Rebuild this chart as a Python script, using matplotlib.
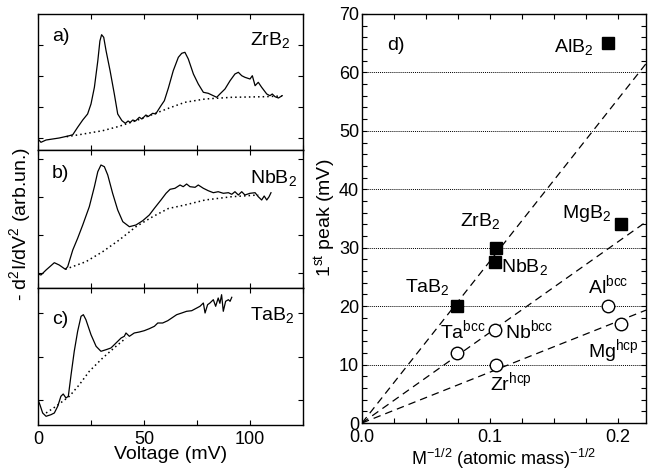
import matplotlib
matplotlib.use("Agg")
import matplotlib.pyplot as plt
from matplotlib.ticker import MultipleLocator

plt.rcParams['font.family'] = ['Liberation Sans', 'DejaVu Sans']
plt.rcParams['mathtext.fontset'] = 'custom'
plt.rcParams['mathtext.rm'] = 'Liberation Sans'
plt.rcParams['mathtext.it'] = 'Liberation Sans'
plt.rcParams['mathtext.default'] = 'regular'

# DATA

# a) ZrB2 spectrum (arb. units)
zr_v = [0, 1.4, 3.8, 6.9, 10, 14.8, 16.4, 18.7, 21.1, 23.4, 25, 26.6, 28.2, 29.2, 30, 31,
        32.1, 34, 36, 37.6, 39.6, 41.2, 42.5, 43.5, 44.7, 46, 47.8, 49, 50.9, 52, 54.1,
        55.5, 56.5, 58, 59.6, 61.5, 63.8, 66.2, 67.8, 69.3, 70.9, 73.3, 75.6, 78, 80.3,
        82.7, 84.3, 85.8, 88.2, 90.6, 92.9, 94.5, 96.1, 97.6, 100, 101.1, 102.4, 103.9,
        105.5, 107.9, 109.4, 110.5, 111.8, 113.4, 115.2]
zr_s = [11, 7.7, 10, 11, 12, 14.3, 15.3, 22.7, 30, 36, 46, 62.7, 89, 109, 115.3, 112.7,
        99.3, 79.3, 56, 36, 29.3, 26.7, 29, 27.5, 30, 29, 32.7, 31, 35, 33.5, 36.7,
        36, 39.3, 44.3, 49.3, 62, 79.3, 92.7, 96.7, 97.7, 91, 76, 66, 57.7, 56.7,
        54.3, 52.7, 56, 61, 69.3, 76, 77.7, 74.3, 72.7, 71, 74.3, 64.3, 67.7,
        62.7, 56, 54.3, 56, 53.3, 52, 54.3]
zr_base_v = [13.5, 20, 30.5, 38, 46.2, 54, 61.9, 69.3, 78.8, 91.4, 107, 115]
zr_base_s = [13.3, 15.5, 19.3, 23.5, 29.3, 35.5, 42, 47.7, 51, 52.7, 53.3, 54]

# b) NbB2 spectrum
nb_v = [0, 1.4, 3.8, 7.7, 10, 12.9, 14, 16.4, 18.7, 21.1, 24.2, 26.6, 28.2, 29.7, 31.3,
        32.9, 35.2, 37.6, 40, 43.1, 46.2, 49.4, 52.5, 54.9, 58, 60.4, 62.3, 64.6, 67,
        68.5, 70.1, 71.7, 74.1, 75.6, 78, 80.3, 82.7, 85, 87.4, 89.8, 91.4, 92.9, 94.5,
        96.1, 97.6, 100, 102.4, 103.9, 105.5, 106.7, 107.9, 109, 109.9]
nb_s = [14, 13, 18, 25.3, 23, 18.7, 21.3, 38, 49.7, 63, 81.3, 101.3, 116.3, 123, 121.3,
        113, 94.7, 78, 66.3, 61.3, 63, 67.3, 73, 79.7, 88, 94.7, 98.7, 99.7, 103,
        101.3, 104, 101.3, 100.7, 103, 99.7, 97.3, 95.3, 96.3, 94.7, 95.3, 93.7, 96.3, 93,
        96.3, 93, 94.7, 95.3, 91.3, 88, 92, 88, 91.3, 95.3]
nb_base_v = [12.9, 22.6, 30.5, 38.3, 46.2, 54.1, 61.5, 69.3, 78.8, 91.4, 103.9]
nb_base_s = [18.7, 26.3, 36.3, 48, 61.3, 71.3, 79.5, 83, 88, 91.3, 93]

# c) TaB2 spectrum
ta_v = [0, 0.9, 2.2, 3.8, 6.1, 7.7, 9.3, 10.8, 11.9, 13.2, 14.3, 15.6, 17.1, 18.7, 20.3,
        21.4, 22.6, 25, 27.4, 29.7, 32.1, 34.4, 36.8, 39.2, 40.7, 41.5, 43.1, 45.4, 47.8,
        50.1, 52.5, 54.9, 56.5, 58.8, 61.2, 63.1, 65.4, 67.8, 70.1, 72.5, 74.9, 76.4, 78,
        78.8, 80, 81.1, 82.7, 83.8, 85, 85.8, 86.6, 87.4, 88.5, 89.8, 90.6, 91.4]
ta_s = [25.3, 20.3, 12, 8.7, 10.3, 12, 18.7, 28.7, 31, 27, 28.7, 50.3, 73.7, 93.7, 108.7,
        110.3, 105.3, 90.3, 78.7, 73.7, 75.3, 77, 82, 87, 88.7, 92, 88.7, 92, 93,
        94.3, 96.3, 98.7, 102, 102, 104.3, 107, 110.3, 112, 113.7, 114.3, 117, 118.7, 122,
        112, 120.3, 122, 125.3, 118.7, 127, 121.7, 130.3, 113.7, 123.7, 125.3, 123.7, 127.7]
ta_base_v = [3.8, 8.5, 14.8, 19.5, 24.2, 30.5, 36.8, 41.5]
ta_base_s = [12, 18.7, 28.7, 40.3, 53.7, 67, 78.7, 87]

# d) first peak vs M^-1/2
boride_names = ['AlB$_2$', 'MgB$_2$', 'ZrB$_2$', 'NbB$_2$', 'TaB$_2$']
boride_x = [0.1925, 0.2028, 0.1047, 0.1037, 0.0743]
boride_peak = [65, 34, 30, 27.5, 20]

metal_names = ['Al$^{bcc}$', 'Mg$^{hcp}$', 'Nb$^{bcc}$', 'Zr$^{hcp}$', 'Ta$^{bcc}$']
metal_x = [0.1925, 0.2028, 0.1037, 0.1047, 0.0743]
metal_peak = [20, 17, 16, 10, 12]

fit_slopes = [277, 155, 87]
grid_levels = [10, 20, 30, 40, 50, 60]

# PLOT

fig = plt.figure(figsize=(6.54, 4.71), dpi=100)

left, right = 38 / 654, 303 / 654
tops = [14, 150, 288]
bots = [150, 288, 425]
spectra = [
    (zr_v, zr_s, zr_base_v, zr_base_s, 'a)', 'ZrB$_2$', [12, 43, 74, 105], 136, 109),
    (nb_v, nb_s, nb_base_v, nb_base_s, 'b)', 'NbB$_2$', [15, 53, 91, 129], 138, 110),
    (ta_v, ta_s, ta_base_v, ta_base_s, 'c)', 'TaB$_2$', [25, 68, 112], 137, 101),
]

for i, (v, s, bv, bs, tag, name, yt, h, tag_y) in enumerate(spectra):
    ax = fig.add_axes([left, 1 - bots[i] / 471, right - left, (bots[i] - tops[i]) / 471])
    ax.plot(v, s, color='black', lw=0.9)
    ax.plot(bv, bs, color='black', lw=1.1, ls=(0, (1, 2)))
    ax.set_xlim(0, 125)
    ax.set_ylim(0, h)
    ax.xaxis.set_major_locator(MultipleLocator(25))
    ax.set_yticks(yt)
    ax.set_yticklabels([])
    ax.tick_params(direction='in', top=True, right=True, length=3.5, width=0.8,
                   labelsize=13, pad=4)
    for sp in ax.spines.values():
        sp.set_linewidth(1.0)
    ax.text(6.6, tag_y, tag, fontsize=14)
    ax.text(100, 104.7, name, fontsize=14)
    if i < 2:
        ax.set_xticklabels([])
    else:
        ax.set_xticks([0, 25, 50, 75, 100, 125])
        ax.set_xticklabels(['0', '', '50', '', '100', ''])
        ax.set_xlabel('Voltage (mV)', fontsize=14, labelpad=-1)

fig.text(0.03, 0.525, '- d$^2$I/dV$^2$ (arb.un.)', rotation=90, fontsize=14,
         ha='center', va='center')

axd = fig.add_axes([362 / 654, 1 - 423 / 471, (646 - 362) / 654, (423 - 14) / 471])
for g in grid_levels:
    axd.axhline(g, color='black', lw=0.7, ls=(0, (1, 1)), zorder=0)
for k in fit_slopes:
    axd.plot([0, 0.222], [0, k * 0.222], color='black', lw=0.9, ls=(0, (6, 4)))
axd.plot(boride_x, boride_peak, 's', color='black', ms=9, ls='none', zorder=3)
axd.plot(metal_x, metal_peak, 'o', mfc='white', mec='black', mew=1.0, ms=9, ls='none',
         zorder=3)
axd.set_xlim(0, 0.222)
axd.set_ylim(0, 70)
axd.xaxis.set_major_locator(MultipleLocator(0.1))
axd.xaxis.set_minor_locator(MultipleLocator(0.025))
axd.yaxis.set_major_locator(MultipleLocator(10))
axd.yaxis.set_minor_locator(MultipleLocator(2))
axd.xaxis.set_major_formatter(plt.FormatStrFormatter('%.1f'))
axd.tick_params(which='both', direction='in', top=True, right=True, length=3.5,
                width=0.8, labelsize=13)
axd.tick_params(axis='x', pad=4)
axd.tick_params(axis='y', pad=2)
for sp in axd.spines.values():
    sp.set_linewidth(1.0)
axd.set_xlabel('M$^{-1/2}$ (atomic mass)$^{-1/2}$', fontsize=13, labelpad=1)
fig.text(0.497, 0.537, '1$^{st}$ peak (mV)', rotation=90, fontsize=14,
         ha='center', va='center')

labels_d = [
    ('d)', 0.0195, 63.9, 'left'),
    ('AlB$_2$', 0.1805, 63.5, 'right'),
    ('MgB$_2$', 0.195, 35.1, 'right'),
    ('ZrB$_2$', 0.0766, 33.7, 'left'),
    ('NbB$_2$', 0.109, 25.9, 'left'),
    ('TaB$_2$', 0.0336, 22.5, 'left'),
    ('Al$^{bcc}$', 0.1766, 22.3, 'left'),
    ('Mg$^{hcp}$', 0.1766, 11.3, 'left'),
    ('Ta$^{bcc}$', 0.061, 14.5, 'left'),
    ('Nb$^{bcc}$', 0.1117, 14.5, 'left'),
    ('Zr$^{hcp}$', 0.100, 5.6, 'left'),
]
for txt, x, y, ha in labels_d:
    axd.text(x, y, txt, fontsize=14, ha=ha, va='baseline')

fig.savefig('out.png', dpi=100)
